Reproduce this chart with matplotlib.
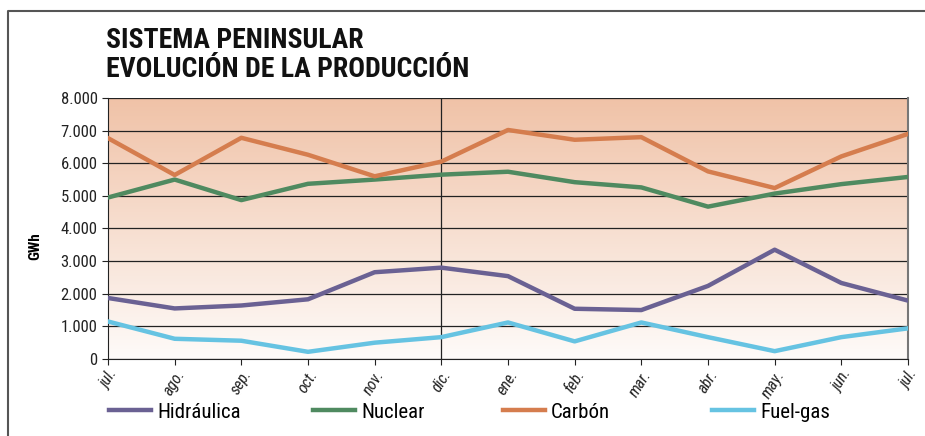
import numpy as np
import matplotlib
matplotlib.use('Agg')
import matplotlib.pyplot as plt
from matplotlib.colors import LinearSegmentedColormap
from matplotlib.lines import Line2D

plt.rcParams['font.family'] = ['Roboto Condensed', 'DejaVu Sans']

# Months, jul. to jul.
meses = ['jul.', 'ago.', 'sep.', 'oct.', 'nov.', 'dic.', 'ene.',
         'feb.', 'mar.', 'abr.', 'may.', 'jun.', 'jul.']

# Production in GWh
hidraulica = [1870, 1550, 1640, 1830, 2660, 2800, 2540, 1540, 1500, 2240, 3350, 2330, 1790]
nuclear = [4950, 5500, 4870, 5370, 5500, 5650, 5740, 5420, 5260, 4670, 5070, 5360, 5580]
carbon = [6770, 5640, 6780, 6260, 5600, 6050, 7020, 6720, 6800, 5750, 5240, 6210, 6900]
fuel_gas = [1150, 620, 560, 220, 500, 670, 1120, 540, 1120, 670, 240, 670, 940]

series = [('Hidráulica', hidraulica, '#6a6193'),
          ('Nuclear', nuclear, '#4f8a60'),
          ('Carbón', carbon, '#d57d4e'),
          ('Fuel-gas', fuel_gas, '#66c3e2')]

W, H = 925, 436
fig = plt.figure(figsize=(W / 100, H / 100), dpi=100)
ax = fig.add_axes([108 / W, 1 - 359 / H, 800 / W, 261 / H])

x = np.arange(len(meses))

# background gradient (light at bottom, salmon at top)
cmap = LinearSegmentedColormap.from_list('bg', ['#fefbf9', '#f0c2a7'])
grad = np.linspace(0, 1, 256).reshape(-1, 1)
ax.imshow(grad, cmap=cmap, origin='lower', aspect='auto',
          extent=[x[0], x[-1], 0, 8000], zorder=0)

handles = []
for name, vals, col in series:
    h, = ax.plot(x, vals, color=col, lw=3.2, label=name, zorder=3)
    handles.append(h)

ax.set_xlim(x[0], x[-1])
ax.set_ylim(0, 8000)
ax.set_yticks(np.arange(0, 8001, 1000))
ax.set_yticklabels(['0'] + [f'{v // 1000}.000' for v in range(1000, 8001, 1000)])
ax.set_xticks(x)
ax.set_xticklabels(meses, rotation=58, ha='right', rotation_mode='anchor',
                   style='italic', fontsize=11.5)
ax.tick_params(axis='y', labelsize=12)
ax.tick_params(axis='both', length=4, color='#222222', labelcolor='#222222')
ax.tick_params(axis='x', pad=2)
ax.grid(axis='y', color='#222222', lw=0.9, zorder=1)
ax.axvline(5, color='#222222', lw=0.9, zorder=1)
ax.spines['top'].set_visible(False)
ax.spines['left'].set_color('#222222')
ax.spines['bottom'].set_color('#222222')
ax.spines['right'].set_color('#777777')
ax.spines['right'].set_linewidth(1.5)

fig.text(35 / W, 1 - 246 / H, 'GWh', rotation=90, fontsize=11,
         fontweight='bold', ha='center', va='center')

fig.text(106 / W, 1 - 55 / H, 'SISTEMA PENINSULAR\nEVOLUCIÓN DE LA PRODUCCIÓN',
         fontsize=20, fontweight='bold', ha='left', va='center',
         linespacing=1.08, color='#111111')

# frame
fig.add_artist(Line2D([8 / W, 8 / W, 1], [0, 1 - 11 / H, 1 - 11 / H],
                      transform=fig.transFigure, color='#555555', lw=1.5))

# legend, one entry per column
leg_x = [109, 313, 503, 712]
for hd, lx in zip(handles, leg_x):
    fig.legend(handles=[hd], loc='center left', bbox_to_anchor=(lx / W, 1 - 412 / H),
               frameon=False, fontsize=15, handlelength=2.0, handletextpad=0.3,
               borderaxespad=0, borderpad=0)

fig.savefig('out.png', dpi=100)
